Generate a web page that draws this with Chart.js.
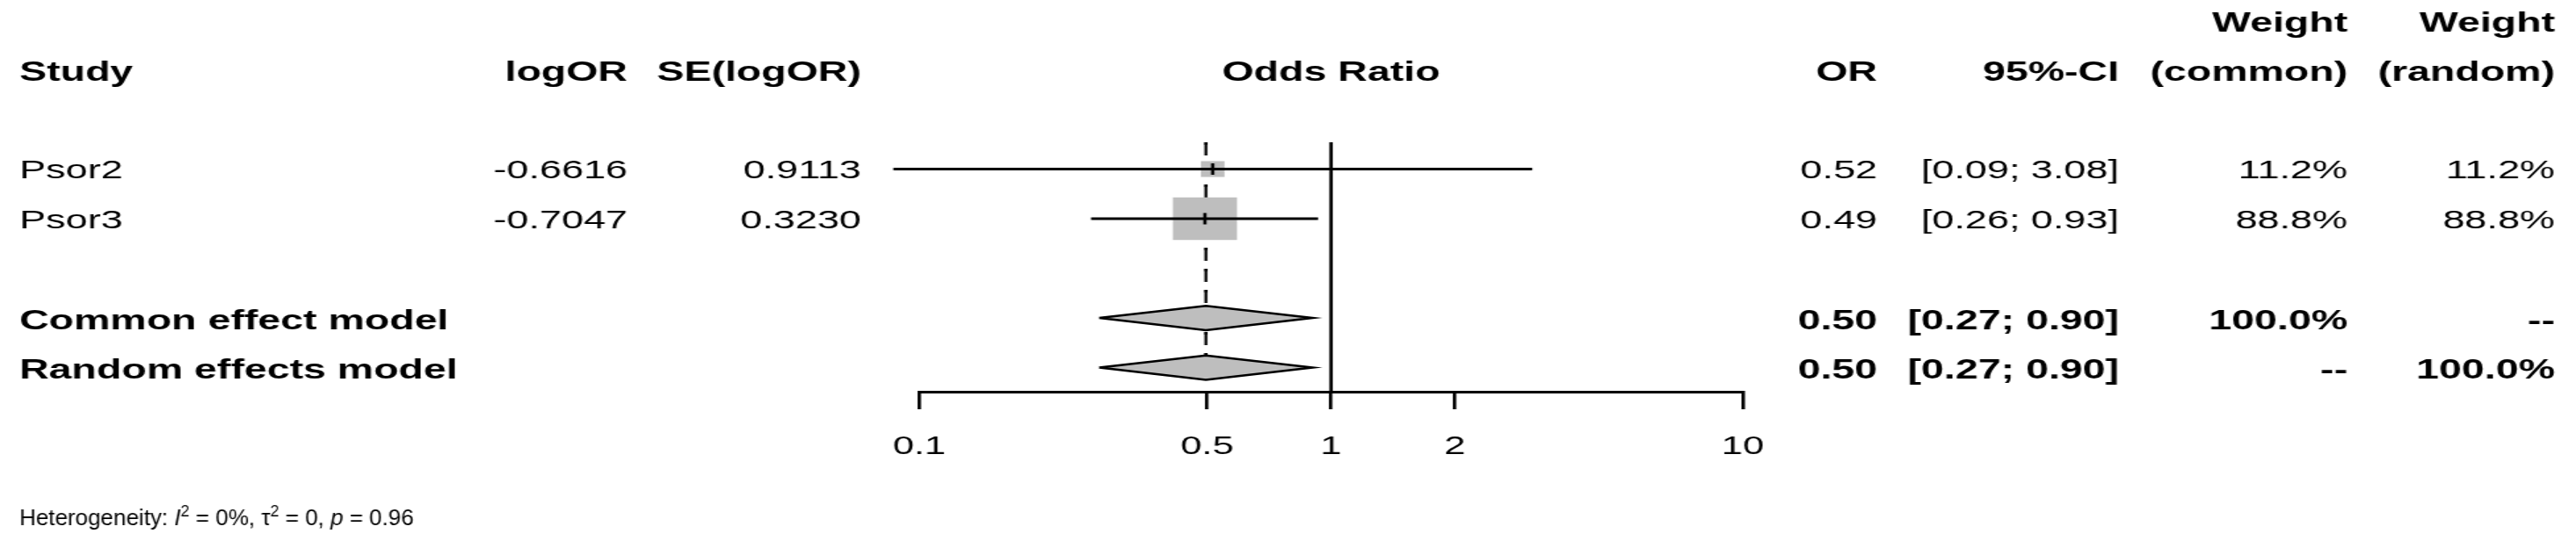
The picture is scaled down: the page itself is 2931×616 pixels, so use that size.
<!DOCTYPE html>
<html>
<head>
<meta charset="utf-8">
<script src="https://cdn.jsdelivr.net/npm/chart.js@4.4.1/dist/chart.umd.min.js"></script>
<style>
    html, body { margin: 0; padding: 0; background: #fff; overflow: hidden; }
    /* the reference is stretched horizontally, so the whole canvas is too */
    #wrap { position: absolute; left: 0; top: 0; width: 1954px; height: 616px; transform: scaleX(1.5); transform-origin: 0 0; }
</style>
</head>
<body>
<div id="wrap"><canvas id="forest" width="1954" height="616"></canvas></div>
<script>
// study rows
const studies = ["Psor2", "Psor3"];
const logOR = [-0.6616, -0.7047];
const seLogOR = [0.9113, 0.3230];
const oddsRatio = [0.516, 0.494];
const ciLower = [0.0865, 0.2613];
const ciUpper = [3.079, 0.9298];
const weightCommon = [11.2, 88.8];
const weightRandom = [11.2, 88.8];

// pooled rows
const pooledLabels = ["Common effect model", "Random effects model"];
const pooledOR = [0.4966, 0.4966];
const pooledLower = [0.2735, 0.2735];
const pooledUpper = [0.9019, 0.9019];
const pooledWeightCommon = ["100.0%", "--"];
const pooledWeightRandom = ["--", "100.0%"];

const xTicks = [0.1, 0.5, 1, 2, 10];
const heterogeneity = { i2: "0%", tau2: "0", p: "0.96" };

// layout (row units on the y scale)
const studyRows = [1, 2];
const pooledRows = [4, 5];
const yTop = 0.46;
const yBottom = 5.486;
const diamondHalf = 0.245;
const STRETCH = 1.5;
const FONT = "'Liberation Sans', Arial, Helvetica, sans-serif";

Chart.defaults.font.family = FONT;

function boxRadius(w) {
    // side of the square grows with sqrt(weight)
    return (5.06 * Math.sqrt(w) + 1) / Math.SQRT2;
}

const datasets = [];

// pooled effect lines (common dashed, random dotted)
datasets.push({
    data: [{ x: pooledOR[0], y: yTop }, { x: pooledOR[0], y: pooledRows[1] }],
    showLine: true, borderColor: "#000", borderWidth: 2.2, borderDash: [12, 12],
    pointRadius: 0, order: 9,
});
datasets.push({
    data: [{ x: pooledOR[1], y: yTop }, { x: pooledOR[1], y: pooledRows[1] }],
    showLine: true, borderColor: "#000", borderWidth: 2.2, borderDash: [3, 9],
    pointRadius: 0, order: 9,
});

// line of no effect
datasets.push({
    data: [{ x: 1, y: yTop }, { x: 1, y: yBottom }],
    showLine: true, borderColor: "#000", borderWidth: 2.6,
    pointRadius: 0, order: 8,
});

// study squares
datasets.push({
    data: studies.map((s, i) => ({ x: oddsRatio[i], y: studyRows[i] })),
    pointStyle: "rect",
    pointRadius: (c) => boxRadius(weightCommon[c.dataIndex]),
    backgroundColor: "#bebebe", borderWidth: 0, order: 7,
});

// confidence intervals
studies.forEach((s, i) => {
    datasets.push({
        data: [{ x: ciLower[i], y: studyRows[i] }, { x: ciUpper[i], y: studyRows[i] }],
        showLine: true, borderColor: "#000", borderWidth: 3,
        pointRadius: 0, clip: false, order: 6,
    });
});

// point estimate marks
datasets.push({
    data: studies.map((s, i) => ({ x: oddsRatio[i], y: studyRows[i] })),
    pointStyle: "line", rotation: 90, pointRadius: 6.5,
    borderColor: "#000", borderWidth: 2.5, order: 5,
});

// diamonds
pooledLabels.forEach((s, i) => {
    const r = pooledRows[i];
    datasets.push({
        data: [
            { x: pooledLower[i], y: r },
            { x: pooledOR[i], y: r - diamondHalf },
            { x: pooledUpper[i], y: r },
            { x: pooledOR[i], y: r + diamondHalf },
            { x: pooledLower[i], y: r },
        ],
        showLine: true, fill: "shape", backgroundColor: "#bebebe",
        borderColor: "#000", borderWidth: 2.5, borderJoinStyle: "miter",
        pointRadius: 0, order: 1,
    });
});

// text centred on the cap height of the row
function txt(ctx, s, x, y, align, bold) {
    const size = bold ? 31 : 30;
    ctx.font = (bold ? "bold " : "") + size + "px " + FONT;
    ctx.textAlign = align;
    ctx.fillText(s, x, y + 0.358 * size);
}

const tablePlugin = {
    id: "forestTable",
    afterDraw(chart) {
        const { ctx } = chart;
        const x = chart.scales.x;
        const y = chart.scales.y;
        const col = { study: 14.7, logor: 476, se: 653.3, or: 1424, ci: 1607.3, wc: 1780.7, wr: 1938 };
        ctx.save();
        ctx.fillStyle = "#000";
        ctx.textBaseline = "alphabetic";

        // headers
        const h1 = y.getPixelForValue(-1.97);
        const h2 = y.getPixelForValue(-0.97);
        txt(ctx, "Weight", col.wc, h1, "right", true);
        txt(ctx, "Weight", col.wr, h1, "right", true);
        txt(ctx, "Study", col.study, h2, "left", true);
        txt(ctx, "logOR", col.logor, h2, "right", true);
        txt(ctx, "SE(logOR)", col.se, h2, "right", true);
        txt(ctx, "Odds Ratio", x.getPixelForValue(1), h2, "center", true);
        txt(ctx, "OR", col.or, h2, "right", true);
        txt(ctx, "95%-CI", col.ci, h2, "right", true);
        txt(ctx, "(common)", col.wc, h2, "right", true);
        txt(ctx, "(random)", col.wr, h2, "right", true);

        // study rows
        studies.forEach((s, i) => {
            const py = y.getPixelForValue(studyRows[i]);
            txt(ctx, s, col.study, py, "left", false);
            txt(ctx, logOR[i].toFixed(4), col.logor, py, "right", false);
            txt(ctx, seLogOR[i].toFixed(4), col.se, py, "right", false);
            txt(ctx, oddsRatio[i].toFixed(2), col.or, py, "right", false);
            txt(ctx, "[" + ciLower[i].toFixed(2) + "; " + ciUpper[i].toFixed(2) + "]", col.ci, py, "right", false);
            txt(ctx, weightCommon[i].toFixed(1) + "%", col.wc, py, "right", false);
            txt(ctx, weightRandom[i].toFixed(1) + "%", col.wr, py, "right", false);
        });

        // pooled rows
        pooledLabels.forEach((s, i) => {
            const py = y.getPixelForValue(pooledRows[i]) + 1.5;
            txt(ctx, s, col.study, py, "left", true);
            txt(ctx, pooledOR[i].toFixed(2), col.or, py, "right", true);
            txt(ctx, "[" + pooledLower[i].toFixed(2) + "; " + pooledUpper[i].toFixed(2) + "]", col.ci, py, "right", true);
            txt(ctx, pooledWeightCommon[i], col.wc, py, "right", true);
            txt(ctx, pooledWeightRandom[i], col.wr, py, "right", true);
        });

        // heterogeneity line, not stretched in the reference
        ctx.scale(1 / STRETCH, 1);
        const base = 598;
        let cx = col.study * STRETCH;
        const parts = [
            ["Heterogeneity: ", "26px", 0],
            ["I", "italic 26px", 0],
            ["2", "18px", -10],
            [" = " + heterogeneity.i2 + ", ", "26px", 0],
            ["\u03c4", "26px", 0],
            ["2", "18px", -10],
            [" = " + heterogeneity.tau2 + ", ", "26px", 0],
            ["p", "italic 26px", 0],
            [" = " + heterogeneity.p, "26px", 0],
        ];
        ctx.textAlign = "left";
        parts.forEach(([s, f, dy]) => {
            ctx.font = f + " " + FONT;
            ctx.fillText(s, cx, base + dy);
            cx += ctx.measureText(s).width;
        });
        ctx.restore();
    },
};

new Chart(document.getElementById("forest"), {
    type: "scatter",
    data: { datasets: datasets },
    options: {
        responsive: false,
        maintainAspectRatio: false,
        animation: false,
        devicePixelRatio: 1,
        events: [],
        layout: { padding: { top: 162, left: 697.3, right: 632, bottom: 0 } },
        plugins: { legend: { display: false }, tooltip: { enabled: false } },
        scales: {
            x: {
                type: "logarithmic",
                min: 0.1,
                max: 10,
                afterBuildTicks: (s) => { s.ticks = xTicks.map((v) => ({ value: v })); },
                afterFit: (s) => { s.height = 170; },
                grid: { drawOnChartArea: false, drawTicks: true, tickLength: 20, color: "#000", lineWidth: 2.6 },
                border: { display: true, color: "#000", width: 3 },
                ticks: {
                    color: "#000",
                    font: { size: 29 },
                    padding: 26,
                    autoSkip: false,
                    maxRotation: 0,
                    callback: (v) => String(v),
                },
            },
            y: {
                type: "linear",
                min: yTop,
                max: yBottom,
                reverse: true,
                display: false,
            },
        },
    },
    plugins: [tablePlugin],
});
</script>
</body>
</html>
